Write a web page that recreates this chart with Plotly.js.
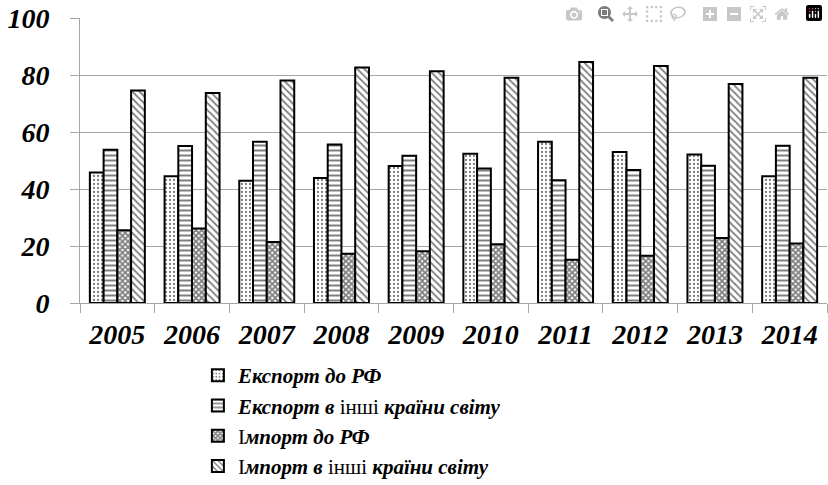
<!DOCTYPE html>
<html>
<head>
<meta charset="utf-8">
<script src="https://cdn.plot.ly/plotly-3.0.1.min.js"></script>
<style>
html,body{margin:0;padding:0;background:#fff;}
#chart{width:828px;height:485px;}
</style>
</head>
<body>
<div id="chart"></div>
<script>
const years = ['2005','2006','2007','2008','2009','2010','2011','2012','2013','2014'];
const exportRF = [45.8, 44.5, 42.9, 43.9, 48.1, 52.4, 56.6, 53.0, 52.1, 44.5];
const exportOther = [53.8, 55.1, 56.6, 55.6, 51.7, 47.2, 43.1, 46.7, 48.2, 55.2];
const importRF = [25.5, 26.1, 21.4, 17.3, 18.2, 20.6, 15.2, 16.6, 22.8, 20.9];
const importOther = [74.6, 73.7, 78.1, 82.6, 81.3, 79.0, 84.6, 83.2, 76.8, 79.0];
const seriesNames = [
  '<b><i>Експорт до РФ</i></b>',
  '<b><i>Експорт в </i></b>інші<b><i> країни світу</i></b>',
  'І<b><i>мпорт до РФ</i></b>',
  'І<b><i>мпорт в </i></b>інші<b><i> країни світу</i></b>'
];
const yTicks = [0, 20, 40, 60, 80, 100];

const patterns = [
  {shape: '.', size: 4, solidity: 0.25},
  {shape: '-', size: 5, solidity: 0.4},
  {shape: 'x', size: 4, solidity: 0.7},
  {shape: '\\', size: 5, solidity: 0.35}
];
const allValues = [exportRF, exportOther, importRF, importOther];

const traces = allValues.map((vals, i) => ({
  type: 'bar',
  x: years,
  y: vals,
  name: seriesNames[i],
  marker: {
    color: '#ffffff',
    line: {color: '#000000', width: 2},
    pattern: Object.assign({fgcolor: '#000000', bgcolor: '#ffffff', fillmode: 'overlay'}, patterns[i])
  },
  hoverinfo: 'none'
}));

const serif = 'Liberation Serif';
const tickFont = {family: serif, size: 28, weight: 'bold', style: 'italic'};

const layout = {
  width: 828,
  height: 485,
  font: {family: serif, size: 20},
  margin: {l: 80, r: 1, t: 18, b: 182, pad: 0, autoexpand: false},
  barmode: 'group',
  bargap: 0.264,
  bargroupgap: 0,
  showlegend: true,
  legend: {
    xref: 'container', yref: 'container',
    x: 0.239, xanchor: 'left',
    y: 0.268, yanchor: 'top',
    orientation: 'v',
    font: {family: serif, size: 21},
    tracegroupgap: 0,
    traceorder: 'normal'
  },
  xaxis: {
    type: 'category',
    tickfont: tickFont,
    showline: true,
    linecolor: '#a6a6a6',
    linewidth: 1,
    ticks: 'outside',
    tickson: 'boundaries',
    ticklen: 9,
    tickcolor: '#a6a6a6',
    showgrid: false,
    ticklabelstandoff: 6
  },
  yaxis: {
    range: [0, 100],
    tickvals: yTicks,
    ticktext: yTicks.map(String),
    tickfont: tickFont,
    showline: true,
    linecolor: '#a6a6a6',
    linewidth: 1,
    ticks: 'outside',
    ticklen: 9,
    tickcolor: '#a6a6a6',
    showgrid: true,
    gridcolor: '#a6a6a6',
    gridwidth: 1,
    zeroline: false,
    ticklabelstandoff: 15
  }
};

Plotly.newPlot('chart', traces, layout).then(() => {
  document.querySelectorAll('#chart text').forEach(t => {
    t.style.setProperty('font-family', "'Liberation Serif', serif", 'important');
    t.style.setProperty('fill', '#000000');
  });
});
</script>
</body>
</html>
